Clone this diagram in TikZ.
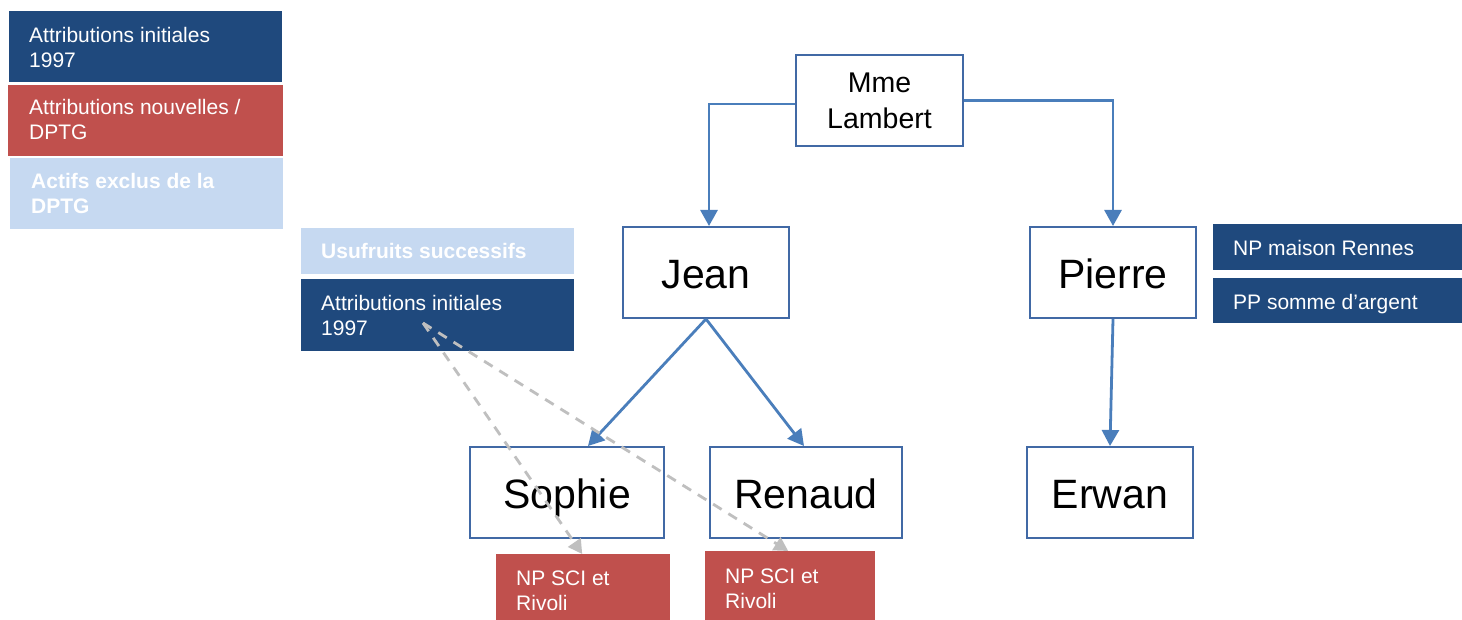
\documentclass[tikz,border=0pt]{standalone}
\usepackage{fontspec}
\setmainfont{Liberation Sans}
\usetikzlibrary{arrows.meta}
\definecolor{dkblue}{RGB}{31,73,125}
\definecolor{redc}{RGB}{192,80,77}
\definecolor{ltblue}{RGB}{198,217,241}
\definecolor{arrblue}{RGB}{74,126,187}
\definecolor{boxblue}{RGB}{65,105,165}
\definecolor{grayc}{RGB}{191,191,191}
\newcommand{\fl}{\rule{0pt}{16pt}}
\begin{document}
\begin{tikzpicture}[x=1pt,y=-1pt,
  fillbox/.style={draw=none,inner sep=0pt,anchor=north west},
  legtxt/.style={text=white,font=\fontsize{21}{25.5}\selectfont,align=left,inner sep=0pt,anchor=north west},
  person/.style={draw=boxblue,line width=2pt,fill=white,inner sep=0pt,anchor=north west,
    font=\fontsize{41}{49}\selectfont,text height=32pt,text depth=0pt},
  barrow/.style={draw=arrblue,line width=2.8pt,-{Triangle[length=16pt,width=17pt]}},
  garrow/.style={draw=grayc,line width=2.8pt,dash pattern=on 10pt off 8pt,-{Triangle[length=14pt,width=15pt]}}]
\useasboundingbox[fill=white] (0,0) rectangle (1462,620);

% legend boxes
\node[fillbox,fill=dkblue,minimum width=273pt,minimum height=71pt] (leg1) at (9,11) {};
\node[fillbox,fill=redc,minimum width=275pt,minimum height=71pt] (leg2) at (8,85) {};
\node[fillbox,fill=ltblue,minimum width=273pt,minimum height=71pt] (leg3) at (10,158) {};
\node[legtxt] (leg1t) at (29,26) {\fl Attributions initiales\\1997};
\node[legtxt] (leg2t) at (29,98) {\fl Attributions nouvelles /\\DPTG};
\node[legtxt,font=\fontsize{21}{25.5}\selectfont\bfseries] (leg3t) at (31,172) {\fl Actifs exclus de la\\DPTG};

% Jean's side boxes
\node[fillbox,fill=ltblue,minimum width=273pt,minimum height=46pt] (usu) at (301,228) {};
\node[fillbox,fill=dkblue,minimum width=273pt,minimum height=72pt] (attr) at (301,279) {};
\node[legtxt,font=\fontsize{21}{25.5}\selectfont\bfseries] (usut) at (321,242) {\fl Usufruits successifs};
\node[legtxt] (attrt) at (321,294) {\fl Attributions initiales\\1997};

% Pierre's boxes
\node[fillbox,fill=dkblue,minimum width=249pt,minimum height=46pt] (npm) at (1213,224) {};
\node[fillbox,fill=dkblue,minimum width=249pt,minimum height=45pt] (ppm) at (1213,278) {};
\node[legtxt] (npmt) at (1233,239) {\fl NP maison Rennes};
\node[legtxt] (ppmt) at (1233,293) {\fl PP somme d’argent};

% children boxes
\node[fillbox,fill=redc,minimum width=174pt,minimum height=66pt] (sci1) at (496,554) {};
\node[fillbox,fill=redc,minimum width=170pt,minimum height=69pt] (sci2) at (705,551) {};
\node[legtxt] (sci1t) at (516,569) {\fl NP SCI et\\Rivoli};
\node[legtxt] (sci2t) at (725,567) {\fl NP SCI et\\Rivoli};

% persons
\node[draw=boxblue,line width=2pt,fill=white,inner sep=0pt,anchor=north west,
  minimum width=167pt,minimum height=91pt,align=center,
  font=\fontsize{28.5}{36}\selectfont] (ml) at (795,54) {\raisebox{0pt}[20.8pt][0pt]{Mme}\\Lambert};
\node[person,minimum width=166pt,minimum height=91pt] (jean) at (622,226) {Jean};
\node[person,minimum width=166pt,minimum height=91pt] (pierre) at (1029,226) {Pierre};
\node[person,minimum width=194pt,minimum height=91pt] (sophie) at (469,446) {Sophie};
\node[person,minimum width=192pt,minimum height=91pt] (renaud) at (709,446) {Renaud};
\node[person,minimum width=166pt,minimum height=91pt] (erwan) at (1026,446) {Erwan};

% blue arrows
\draw[barrow] ([yshift=-3.5pt]ml.west) -| ([xshift=3pt]jean.north);
\draw[barrow] (ml.east) -| (pierre.north);
\draw[barrow] (jean.south) -- ([xshift=21pt]sophie.north);
\draw[barrow] (jean.south) -- ([xshift=-2pt]renaud.north);
\draw[barrow] (pierre.south) -- (erwan.north);

% gray dashed arrows
\coordinate (src) at (423,323);
\draw[garrow] (src) -- ([xshift=-1pt]sci1.north);
\draw[garrow] (src) -- ([xshift=-2pt]sci2.north);
\end{tikzpicture}
\end{document}
